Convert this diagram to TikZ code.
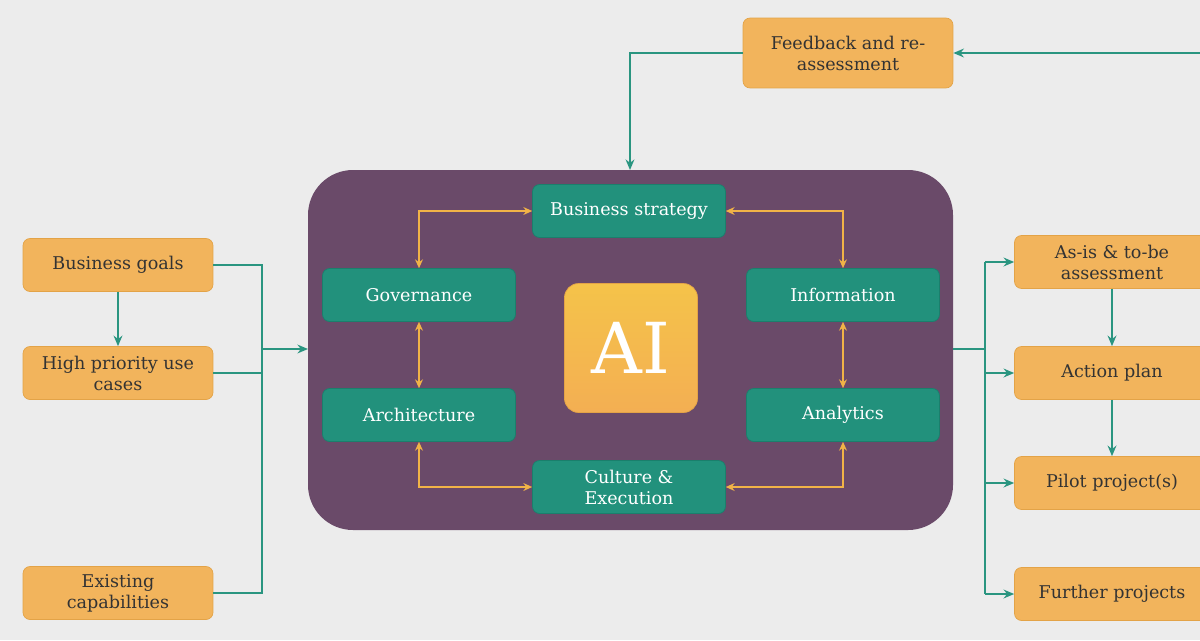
\documentclass[tikz,border=0pt]{standalone}
\usepackage{fontspec}
\setmainfont{DejaVu Serif}
\usetikzlibrary{arrows.meta}
\definecolor{bgcol}{HTML}{ECECEC}
\definecolor{plum}{HTML}{6A4A69}
\definecolor{amber}{HTML}{F2B45C}
\definecolor{amberline}{HTML}{E3A347}
\definecolor{teal}{HTML}{22917C}
\definecolor{tealline}{HTML}{1A7F6C}
\definecolor{linkcol}{HTML}{2A9580}
\definecolor{goldlink}{HTML}{F1B347}

\begin{document}
\begin{tikzpicture}[x=0.02cm,y=-0.02cm,
    stage/.style={draw=amberline,fill=amber,rounded corners=4pt,minimum width=3.8cm,minimum height=1.06cm,align=center,font=\fontsize{10}{12}\selectfont,text=black!80},
    pillar/.style={draw=tealline,fill=teal,rounded corners=4pt,minimum width=3.86cm,minimum height=1.06cm,align=center,font=\fontsize{10}{12}\selectfont,text=white},
    wire/.style={linkcol,line width=1.3pt},
    flow/.style={wire,-{Stealth[length=6pt,width=5pt]}},
    ring/.style={goldlink,line width=1.2pt,{Stealth[length=5pt,width=4.5pt]}-{Stealth[length=5pt,width=4.5pt]}}]
    % canvas
    \fill[bgcol] (0,0) rectangle (1200,640);
    \useasboundingbox (0,0) rectangle (1200,640);

    % central block
    \fill[plum,rounded corners=0.9cm] (308,170) rectangle (953,530);
    \coordinate (coreW) at (308,349);
    \coordinate (coreE) at (953,349);
    \coordinate (coreN) at (630,170);

    % pillars around the core
    \node[pillar] (strategy) at (629,211) {Business strategy};
    \node[pillar] (governance) at (419,295) {Governance};
    \node[pillar] (information) at (843,295) {Information};
    \node[pillar] (architecture) at (419,415) {Architecture};
    \node[pillar] (analytics) at (843,415) {Analytics};
    \node[pillar] (culture) at (629,487) {Culture \&\\Execution};
    \node[draw=amberline,top color=amber!80!yellow,bottom color=amber!90!orange,rounded corners=8pt,
        minimum width=2.66cm,minimum height=2.58cm,text=white,font=\fontsize{40}{40}\selectfont] (ai) at (631,348) {AI};

    % inputs
    \node[stage] (goals) at (118,265) {Business goals};
    \node[stage] (usecases) at (118,373) {High priority use\\cases};
    \node[stage] (capabilities) at (118,593) {Existing\\capabilities};

    % outputs
    \node[stage,minimum width=3.9cm] (asis) at (1112,262) {As-is \& to-be\\assessment};
    \node[stage,minimum width=3.9cm] (plan) at (1112,373) {Action plan};
    \node[stage,minimum width=3.9cm] (pilot) at (1112,483) {Pilot project(s)};
    \node[stage,minimum width=3.9cm] (further) at (1112,594) {Further projects};
    \node[stage,minimum width=4.2cm,minimum height=1.4cm] (feedback) at (848,53) {Feedback and re-\\assessment};
    \coordinate (edge) at (1200,53);
    \coordinate (joinL) at (262,349);
    \coordinate (joinR) at (985,349);

    % links on the left
    \draw[wire] (goals.east) -| (262,593) -- (capabilities.east);
    \draw[wire] (usecases.east) -- (262,373);
    \draw[flow] (joinL) -- (coreW);
    \draw[flow] (goals) -- (usecases);

    % links on the right
    \draw[wire] (coreE) -- (joinR);
    \draw[wire] (985,262) -- (985,594);
    \foreach \out in {asis,plan,pilot,further}
        \draw[flow] (joinR |- \out.west) -- (\out.west);
    \draw[flow] (asis) -- (plan);
    \draw[flow] (plan) -- (pilot);

    % feedback loop
    \draw[flow] (edge) -- (feedback.east);
    \draw[flow] (feedback.west) -| (coreN);

    % ring of pillars
    \draw[ring] (strategy.west) -| (governance.north);
    \draw[ring] (strategy.east) -| (information.north);
    \draw[ring] (governance) -- (architecture);
    \draw[ring] (information) -- (analytics);
    \draw[ring] (architecture.south) |- (culture.west);
    \draw[ring] (analytics.south) |- (culture.east);
\end{tikzpicture}
\end{document}
